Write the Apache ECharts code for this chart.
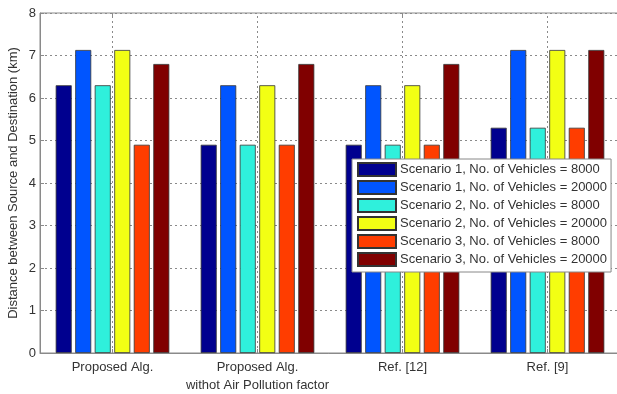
<!DOCTYPE html>
<html>
<head>
<meta charset="utf-8">
<script src="https://cdn.jsdelivr.net/npm/echarts@6/dist/echarts.min.js"></script>
<style>html,body{margin:0;padding:0;background:#fff}#c{width:617px;height:394px}</style>
</head>
<body>
<div id="c"></div>
<script>
const categories = ['Proposed Alg.', 'Proposed Alg.\nwithot Air Pollution factor', 'Ref. [12]', 'Ref. [9]'];
const seriesNames = [
  'Scenario 1, No. of Vehicles = 8000',
  'Scenario 1, No. of Vehicles = 20000',
  'Scenario 2, No. of Vehicles = 8000',
  'Scenario 2, No. of Vehicles = 20000',
  'Scenario 3, No. of Vehicles = 8000',
  'Scenario 3, No. of Vehicles = 20000'
];
const s1v8000 = [6.3, 4.9, 4.9, 5.3];
const s1v20000 = [7.13, 6.3, 6.3, 7.13];
const s2v8000 = [6.3, 4.9, 4.9, 5.3];
const s2v20000 = [7.13, 6.3, 6.3, 7.13];
const s3v8000 = [4.9, 4.9, 4.9, 5.3];
const s3v20000 = [6.8, 6.8, 6.8, 7.13];
const yTicks = [0, 1, 2, 3, 4, 5, 6, 7, 8];
const colors = ['#00008f', '#0055ff', '#2ff0dc', '#f2ff14', '#ff3d00', '#800000'];
const values = [s1v8000, s1v20000, s2v8000, s2v20000, s3v8000, s3v20000];

const FONT = 'Liberation Sans, Arial, sans-serif';
const chart = echarts.init(document.getElementById('c'));

const series = values.map((v, i) => ({
  name: seriesNames[i],
  type: 'bar',
  data: v,
  barWidth: 16,
  barGap: '22%',
  z: 3,
  itemStyle: { color: colors[i], borderColor: '#333', borderWidth: 0.8 },
  emphasis: { disabled: true }
}));
series.push({
  type: 'line',
  data: [],
  z: 1,
  silent: true,
  markLine: {
    silent: true,
    symbol: 'none',
    label: { show: false },
    lineStyle: { type: [2, 3], color: '#8a8a8a', width: 1 },
    data: categories.map(c => ({ xAxis: c }))
  }
});

chart.setOption({
  animation: false,
  backgroundColor: '#fff',
  textStyle: { fontFamily: FONT },
  grid: { left: 40, right: -3, top: 13, bottom: 41, show: true, borderColor: '#8a8a8a', borderWidth: 1, outerBoundsMode: 'none', containLabel: false },
  legend: {
    orient: 'vertical',
    left: 352,
    top: 159,
    padding: [3, 4, 5, 5],
    itemGap: 3,
    itemWidth: 38,
    itemHeight: 13,
    icon: 'rect',
    backgroundColor: '#fff',
    borderColor: '#888',
    borderWidth: 1,
    z: 10,
    data: seriesNames,
    textStyle: { fontFamily: FONT, fontSize: 13, color: '#333', padding: [0, 0, 0, -1] }
  },
  xAxis: [{
    type: 'category',
    data: categories,
    axisLine: { lineStyle: { color: '#8a8a8a' } },
    axisTick: { show: true, inside: true, alignWithLabel: true, length: 4, lineStyle: { color: '#8a8a8a' } },
    axisLabel: { fontFamily: FONT, fontSize: 13, color: '#333', margin: 5, lineHeight: 18, interval: 0 },
    splitLine: { show: false }
  }, {
    type: 'category',
    position: 'top',
    data: categories,
    axisLine: { show: false },
    axisTick: { show: true, inside: true, alignWithLabel: true, length: 4, lineStyle: { color: '#8a8a8a' } },
    axisLabel: { show: false },
    splitLine: { show: false }
  }],
  yAxis: {
    type: 'value',
    min: yTicks[0],
    max: yTicks[yTicks.length - 1],
    interval: 1,
    name: 'Distance between Source and Destination (km)',
    nameLocation: 'middle',
    nameGap: 20,
    nameMoveOverlap: false,
    nameTextStyle: { fontFamily: FONT, fontSize: 13, color: '#333' },
    axisLine: { show: true, lineStyle: { color: '#8a8a8a' } },
    axisTick: { show: true, inside: true, length: 4, lineStyle: { color: '#8a8a8a' } },
    axisLabel: { fontFamily: FONT, fontSize: 13, color: '#333', margin: 4 },
    splitLine: { show: true, lineStyle: { type: [2, 3], color: '#8a8a8a', width: 1 } }
  },
  series: series
});
</script>
</body>
</html>
